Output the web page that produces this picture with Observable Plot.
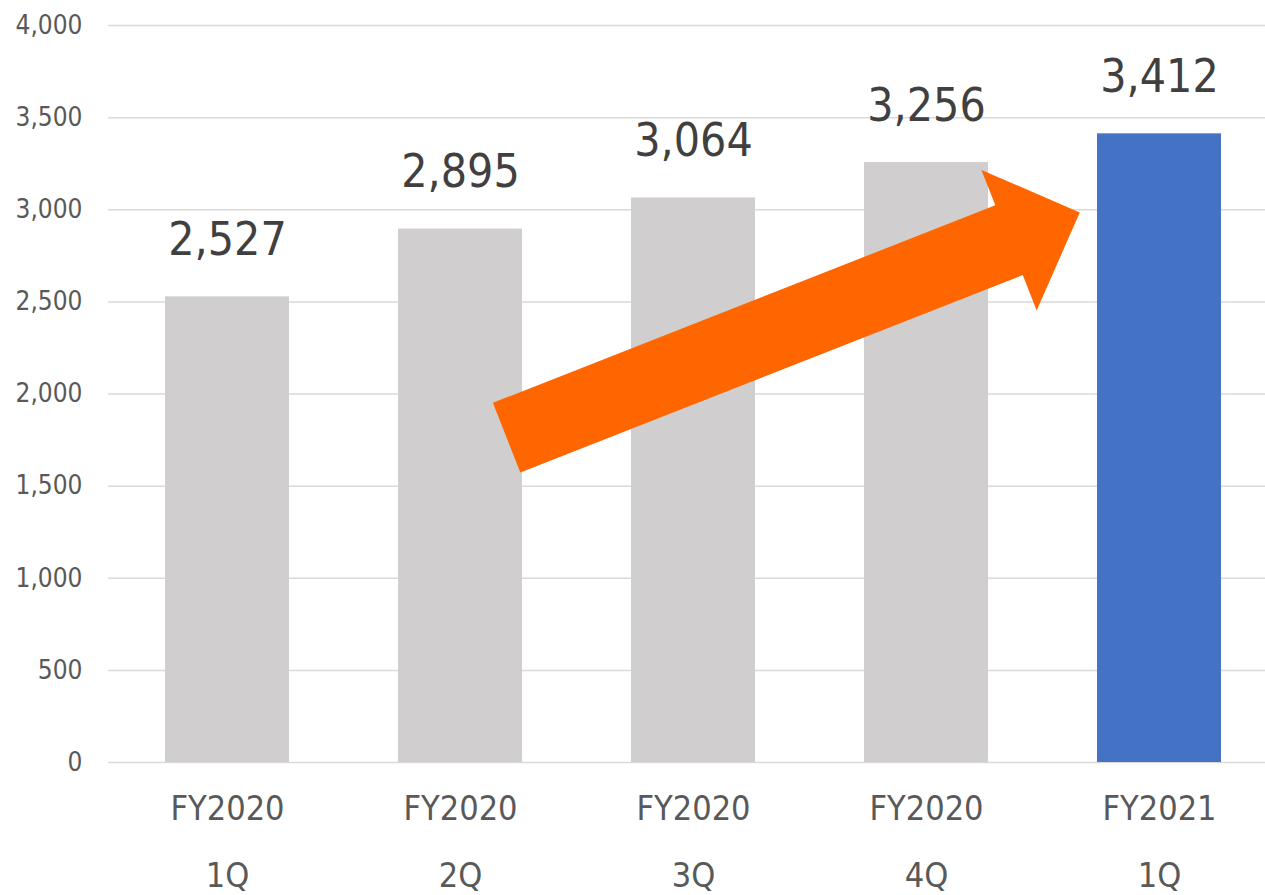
<!DOCTYPE html>
<html>
<head>
<meta charset="utf-8">
<script src="https://cdn.jsdelivr.net/npm/d3@7"></script>
<script src="https://cdn.jsdelivr.net/npm/@observablehq/plot@0.6"></script>
<style>
  html, body { margin: 0; padding: 0; background: #ffffff; }
  #chart svg { display: block; }
</style>
</head>
<body>
<div id="chart"></div>
<script>
// ---- data ----
const fiscalYears = ["FY2020", "FY2020", "FY2020", "FY2020", "FY2021"];
const quarters = ["1Q", "2Q", "3Q", "4Q", "1Q"];
const values = [2527, 2895, 3064, 3256, 3412];
const yTicks = [0, 500, 1000, 1500, 2000, 2500, 3000, 3500, 4000];
// annotation arrow anchors: category index (+ fraction of a step) and value
const arrowFrom = { index: 1, offset: 0.2, value: 1760 };
const arrowTo = { index: 4, offset: -0.34, value: 2983 };

const data = values.map((v, i) => ({ key: fiscalYears[i] + "\n" + quarters[i], value: v, i }));
const keys = data.map(d => d.key);

const GRAY = "#D0CECE", BLUE = "#4472C4", ORANGE = "#FF6600";

function blockArrow(index, scales) {
  const x = scales.x, y = scales.y;
  const bw = typeof x.bandwidth === "function" ? x.bandwidth() : 0;
  const step = typeof x.step === "function" ? x.step() : (x(keys[1]) - x(keys[0]));
  const px = a => x(keys[a.index]) + bw / 2 + a.offset * step;
  const T = [px(arrowFrom), y(arrowFrom.value)];
  const P = [px(arrowTo), y(arrowTo.value)];
  const dx = P[0] - T[0], dy = P[1] - T[1];
  const len = Math.hypot(dx, dy);
  const u = [dx / len, dy / len];
  const n = [-u[1], u[0]];
  const shaft = 75 / 2, head = 151 / 2, headLen = 76;
  const B = [P[0] - u[0] * headLen, P[1] - u[1] * headLen];
  const pt = (o, k) => [o[0] + n[0] * k, o[1] + n[1] * k];
  const pts = [pt(T, shaft), pt(B, shaft), pt(B, head), P, pt(B, -head), pt(B, -shaft), pt(T, -shaft)];
  const poly = document.createElementNS("http://www.w3.org/2000/svg", "polygon");
  poly.setAttribute("points", pts.map(p => p.join(",")).join(" "));
  poly.setAttribute("fill", ORANGE);
  return poly;
}

const chart = Plot.plot({
  width: 1265,
  height: 895,
  marginTop: 25,
  marginBottom: 133,
  marginLeft: 108,
  marginRight: 0,
  style: { fontFamily: "'DejaVu Sans Condensed', 'DejaVu Sans', sans-serif", background: "#ffffff" },
  x: { domain: keys, range: [109.4, 1275.6], paddingInner: 0.468, paddingOuter: 0.234, label: null },
  y: { domain: [0, 4000], label: null },
  color: { type: "identity" },
  marks: [
    Plot.gridY(yTicks, { stroke: "#d9d9d9", strokeOpacity: 1, strokeWidth: 1.5 }),
    Plot.barY(data, { x: "key", y: "value", fill: d => d.i === data.length - 1 ? BLUE : GRAY }),
    Plot.text(data, {
      x: "key", y: "value", text: d => d3.format(",")(d.value),
      dy: -42, lineAnchor: "bottom", fontSize: 46, fill: "#404040"
    }),
    blockArrow,
    Plot.axisY(yTicks, {
      tickSize: 0, tickPadding: 26, fontSize: 26, color: "#595959",
      tickFormat: d3.format(","), label: null
    }),
    Plot.axisX({
      tickSize: 0, tickPadding: 10, fontSize: 34, lineHeight: 1.97,
      color: "#595959", label: null
    })
  ]
});
document.getElementById("chart").appendChild(chart);
</script>
</body>
</html>
